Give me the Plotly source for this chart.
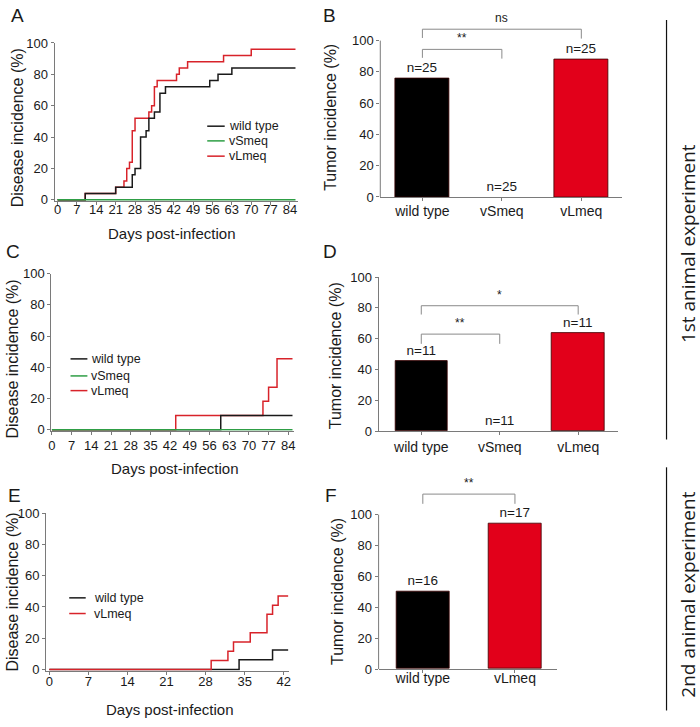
import plotly.graph_objects as go

# ---------------- data ----------------
# Panel A: disease incidence, 1st experiment
a_wt_days = [0, 10, 21, 27, 28, 30, 32, 33, 35, 37, 39, 55, 58, 63, 86]
a_wt_vals = [0, 4, 8, 16, 20, 40, 44, 52, 56, 68, 72, 76, 80, 84, 84]
a_vs_days = [0, 86]
a_vs_vals = [0, 0]
a_vl_days = [0, 10, 21, 24, 25, 26, 27, 28, 33, 34, 35, 36, 43, 44, 47, 60, 70, 86]
a_vl_vals = [0, 4, 8, 12, 20, 24, 44, 52, 56, 60, 72, 76, 80, 84, 88, 92, 96, 96]

# Panel C
c_wt_days = [0, 60, 85.5]
c_wt_vals = [0, 9.09, 9.09]
c_vs_days = [0, 85.5]
c_vs_vals = [0, 0]
c_vl_days = [0, 44, 75, 77, 80, 85.5]
c_vl_vals = [0, 9.09, 18.18, 27.27, 45.45, 45.45]

# Panel E: 2nd experiment
e_wt_days = [0, 34, 40, 42.8]
e_wt_vals = [0, 6.25, 12.5, 12.5]
e_vl_days = [0, 29, 32, 33, 36, 39, 40, 41, 42.8]
e_vl_vals = [0, 5.88, 11.76, 17.65, 23.53, 35.29, 41.18, 47.06, 47.06]

# Bar panels
b_groups = ["wild type", "vSmeq", "vLmeq"]
b_vals = [76, 0, 88]
b_n = ["n=25", "n=25", "n=25"]
d_groups = ["wild type", "vSmeq", "vLmeq"]
d_vals = [45.45, 0, 63.64]
d_n = ["n=11", "n=11", "n=11"]
f_groups = ["wild type", "vLmeq"]
f_vals = [50, 94.1]
f_n = ["n=16", "n=17"]

# significance brackets: (i, j, label, top level, left foot, right foot)
b_sig = [(0, 1, "**", 94.4, 89, 88.5), (0, 2, "ns", 107.3, 101.7, 101.3)]
d_sig = [(0, 1, "**", 63, 56.7, 56.7), (0, 2, "*", 81.4, 75.7, 75.7)]
f_sig = [(0, 1, "**", 113.3, 107, 107)]

x_ticks_85 = [0, 7, 14, 21, 28, 35, 42, 49, 56, 63, 70, 77, 84]
x_ticks_42 = [0, 7, 14, 21, 28, 35, 42]
y_ticks = [0, 20, 40, 60, 80, 100]

# ---------------- style ----------------
FONT = "Liberation Sans, Arial, sans-serif"
BLACK_LINE = "#1a1a1a"
GREEN = "#2e9e45"
RED_LINE = "#d8232a"
BAR_BLACK = "#000000"
BAR_RED = "#e2001a"
AX = "#7a7a7a"
TXT = "#1a1a1a"

W, H = 700, 727


def px_x(v):
    return v / W


def px_y(v):
    return 1 - v / H


fig = go.Figure()


def add_line(days, vals, color, ax, name):
    fig.add_trace(go.Scatter(x=days, y=vals, mode="lines", line=dict(color=color, width=1.5, shape="hv"),
                             name=name, xaxis="x" + ax, yaxis="y" + ax, showlegend=False, hoverinfo="skip"))


# Panel A (axis "")
add_line(a_vl_days, a_vl_vals, RED_LINE, "", "vLmeq")
add_line(a_wt_days, a_wt_vals, BLACK_LINE, "", "wild type")
add_line(a_vs_days, a_vs_vals, GREEN, "", "vSmeq")
# Panel C
add_line(c_vl_days, c_vl_vals, RED_LINE, "3", "vLmeq")
add_line(c_wt_days, c_wt_vals, BLACK_LINE, "3", "wild type")
add_line(c_vs_days, c_vs_vals, GREEN, "3", "vSmeq")
# Panel E
add_line(e_wt_days, e_wt_vals, BLACK_LINE, "5", "wild type")
add_line(e_vl_days, e_vl_vals, RED_LINE, "5", "vLmeq")


def add_bars(groups, vals, labels, ax, width):
    colors = [BAR_RED if g == "vLmeq" else BAR_BLACK for g in groups]
    lw = [0.8 if v > 0 else 0 for v in vals]
    fig.add_trace(go.Bar(x=list(range(len(groups))), y=vals, text=labels, textposition="outside",
                         textfont=dict(family=FONT, size=13.5, color=TXT), cliponaxis=False,
                         marker=dict(color=colors, line=dict(color="#3a0000", width=lw)),
                         width=width, xaxis="x" + ax, yaxis="y" + ax, showlegend=False, hoverinfo="skip"))


add_bars(b_groups, b_vals, b_n, "2", 0.67)
add_bars(d_groups, d_vals, d_n, "4", 0.667)
add_bars(f_groups, f_vals, f_n, "6", 0.58)

shapes = []
annotations = []


def add_sig(sigs, ax):
    for (i, j, lab, top, lf, rf) in sigs:
        shapes.append(dict(type="path", xref="x" + ax, yref="y" + ax,
                           path=f"M {i},{lf} L {i},{top} L {j},{top} L {j},{rf}",
                           line=dict(color="#8a8a8a", width=1)))
        annotations.append(dict(x=(i + j) / 2, y=top, xref="x" + ax, yref="y" + ax, text=lab,
                                showarrow=False, yanchor="bottom", yshift=2,
                                font=dict(family=FONT, size=12, color=TXT)))


add_sig(b_sig, "2")
add_sig(d_sig, "4")
add_sig(f_sig, "6")


def axis_common(**kw):
    d = dict(showline=True, linecolor=AX, linewidth=1, ticks="outside", ticklen=3, tickcolor=AX,
             showgrid=False, zeroline=False, tickfont=dict(family=FONT, size=13, color=TXT), fixedrange=True)
    d.update(kw)
    return d


CAT_FONT = dict(family=FONT, size=14, color=TXT)

layout = dict(
    width=W, height=H, margin=dict(l=0, r=0, t=0, b=0), paper_bgcolor="white", plot_bgcolor="white",
    showlegend=False, bargap=0,
    # A
    xaxis=axis_common(domain=[px_x(51.9), px_x(297.1)], range=[-1.1, 86.9], tickvals=x_ticks_85, anchor="y",
                      ticklabelstandoff=-7),
    yaxis=axis_common(domain=[px_y(198), px_y(36.7)], range=[-0.7, 100], tickvals=y_ticks, anchor="x"),
    # B
    xaxis2=axis_common(domain=[px_x(380), px_x(623.3)], range=[-0.53, 2.51], tickvals=[0, 1, 2],
                       ticktext=b_groups, anchor="y2", tickfont=CAT_FONT, ticklabelstandoff=-2),
    yaxis2=axis_common(domain=[px_y(194), px_y(5.6)], range=[0, 118], tickvals=y_ticks, anchor="x2",
                       showline=False),
    # C
    xaxis3=axis_common(domain=[px_x(48.7), px_x(293)], range=[-0.2, 86], tickvals=x_ticks_85, anchor="y3"),
    yaxis3=axis_common(domain=[px_y(432.7), px_y(272.3)], range=[-0.7, 100], tickvals=y_ticks, anchor="x3"),
    # D
    xaxis4=axis_common(domain=[px_x(378.3), px_x(619.3)], range=[-0.544, 2.506], tickvals=[0, 1, 2],
                       ticktext=d_groups, anchor="y4", tickfont=CAT_FONT),
    yaxis4=axis_common(domain=[px_y(433.3), px_y(275.7)], range=[0, 100], tickvals=y_ticks, anchor="x4"),
    # E
    xaxis5=axis_common(domain=[px_x(43.3), px_x(287.8)], range=[-0.6, 42.9], tickvals=x_ticks_42, anchor="y5",
                       ticklabelstandoff=-4),
    yaxis5=axis_common(domain=[px_y(677.7), px_y(516.7)], range=[-0.7, 100], tickvals=y_ticks, anchor="x5"),
    # F
    xaxis6=axis_common(domain=[px_x(378.3), px_x(558.3)], range=[-0.48, 1.46], tickvals=[0, 1],
                       ticktext=f_groups, anchor="y6", tickfont=CAT_FONT, ticklabelstandoff=-7),
    yaxis6=axis_common(domain=[px_y(676), px_y(480.5)], range=[0, 124], tickvals=y_ticks, anchor="x6",
                       showline=False),
)

# manual y axis lines for B and F (only 0-100)
for ax in ["2", "6"]:
    shapes.append(dict(type="line", xref="x" + ax + " domain", yref="y" + ax, x0=0, x1=0, y0=0, y1=100,
                       line=dict(color=AX, width=1)))


def paper_text(x, y, text, size, angle=0, family=FONT, color=TXT):
    annotations.append(dict(x=px_x(x), y=px_y(y), xref="paper", yref="paper", text=text, showarrow=False,
                            textangle=angle, xanchor="center", yanchor="middle",
                            font=dict(family=family, size=size, color=color)))


# panel letters
for lab, x, y in [("A", 14.5, 9), ("B", 329, 9), ("C", 10, 250), ("D", 329, 250), ("E", 11.5, 499), ("F", 330, 499)]:
    paper_text(x, y, lab, 19)

# axis titles
paper_text(15, 123, "Disease incidence (%)", 16, -90)
paper_text(170.5, 231, "Days post-infection", 15)
paper_text(330, 112.5, "Tumor incidence (%)", 16, -90)
paper_text(10, 359, "Disease incidence (%)", 16, -90)
paper_text(172.8, 471.7, "Days post-infection", 15)
paper_text(335, 356, "Tumor incidence (%)", 16, -90)
paper_text(10, 597, "Disease incidence (%)", 16, -90)
paper_text(168, 717, "Days post-infection", 15)
paper_text(336.7, 597, "Tumor incidence (%)", 16, -90)


# legends
def legend(x_line0, x_line1, x_text, ys, items):
    for y, (name, color) in zip(ys, items):
        shapes.append(dict(type="line", xref="paper", yref="paper", x0=px_x(x_line0), x1=px_x(x_line1),
                           y0=px_y(y), y1=px_y(y), line=dict(color=color, width=1.5)))
        annotations.append(dict(x=px_x(x_text), y=px_y(y), xref="paper", yref="paper", text=name,
                                showarrow=False, xanchor="left", yanchor="middle",
                                font=dict(family=FONT, size=12.5, color=TXT)))


legend(205.7, 223.3, 225.5, [121.7, 136.7, 152.3],
       [("wild type", BLACK_LINE), ("vSmeq", GREEN), ("vLmeq", RED_LINE)])
legend(68, 85, 87, [359.3, 376.7, 391.7],
       [("wild type", BLACK_LINE), ("vSmeq", GREEN), ("vLmeq", RED_LINE)])
legend(66.7, 83.3, 89.5, [603.3, 619.3],
       [("wild type", BLACK_LINE), ("vLmeq", RED_LINE)])

# right side experiment labels
shapes.append(dict(type="line", xref="paper", yref="paper", x0=px_x(668.3), x1=px_x(668.3),
                   y0=px_y(13.3), y1=px_y(441.7), line=dict(color="#111", width=1.2)))
shapes.append(dict(type="line", xref="paper", yref="paper", x0=px_x(668.3), x1=px_x(668.3),
                   y0=px_y(470), y1=px_y(718.3), line=dict(color="#111", width=1.2)))
paper_text(690, 242, "1st animal experiment", 19, -90, family="Open Sans, Noto Sans, sans-serif")
paper_text(690, 600, "2nd animal experiment", 19, -90, family="Open Sans, Noto Sans, sans-serif")

layout["shapes"] = shapes
layout["annotations"] = annotations
fig.update_layout(**layout)

fig.write_html("out.html", config={"displayModeBar": False},
               post_script="document.body.style.margin='0';document.body.style.padding='0';"
                           "document.body.style.overflow='hidden';")
